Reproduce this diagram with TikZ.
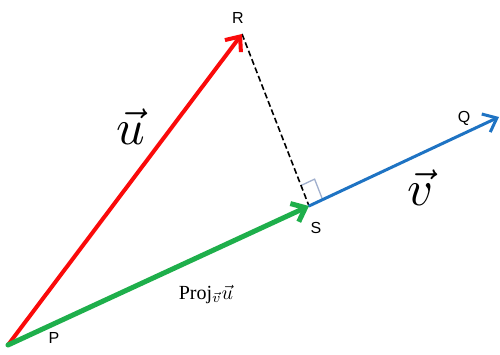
\documentclass[tikz,border=0pt]{standalone}
\usepackage{fontspec}
\setmainfont{Liberation Serif}
\setsansfont{Liberation Sans}
\usetikzlibrary{arrows.meta,calc}
\definecolor{vred}{RGB}{250,10,10}
\definecolor{vgreen}{RGB}{30,175,75}
\definecolor{vblue}{RGB}{30,115,195}
\definecolor{marker}{RGB}{160,175,205}
\tikzset{
  vec/.style={line width=#1, line cap=round, -{Straight Barb[length=12pt,width=20pt,line width=#1]}},
  ptlabel/.style={font=\sffamily\fontsize{16}{16}\selectfont, inner sep=0pt},
  veclabel/.style={inner sep=0pt}
}
\begin{document}
\begin{tikzpicture}[x=1pt,y=-1pt]
\useasboundingbox (0,0) rectangle (500,355);
\coordinate (P) at (8,345);
\coordinate (R) at (242,34);
\coordinate (S) at (309,206);
\coordinate (Q) at (499,117);
% right angle marker
\coordinate (m1) at ($(S)!15pt!(Q)$);
\coordinate (m0) at ($(S)!22pt!(R)$);
\draw[marker, line width=1.3pt] (m0) -- ($(m0)+(m1)-(S)$) -- (m1);
% dashed
\draw[black, line width=1.6pt, dash pattern=on 6pt off 3pt] (R) -- (S);
% vectors
\draw[vec=3pt, vblue] (S) -- (Q);
\draw[vec=4pt, vred] (P) -- (R);
\draw[vec=5pt, vgreen] (P) -- (S);
% labels
\node[ptlabel] (lP) at (54,338) {P};
\node[ptlabel] (lR) at (238,18) {R};
\node[ptlabel] (lS) at (316,228) {S};
\node[ptlabel] (lQ) at (464,118) {Q};
\node[veclabel] (lu) at (131,127) {\scalebox{5}{$\vec{u}$}};
\node[veclabel] (lv) at (421,188) {\scalebox{5}{$\vec{v}$}};
\node[inner sep=0pt] (lproj) at (206,294) {\scalebox{2}{Proj$_{\vec{v}}\vec{u}$}};
\end{tikzpicture}
\end{document}
